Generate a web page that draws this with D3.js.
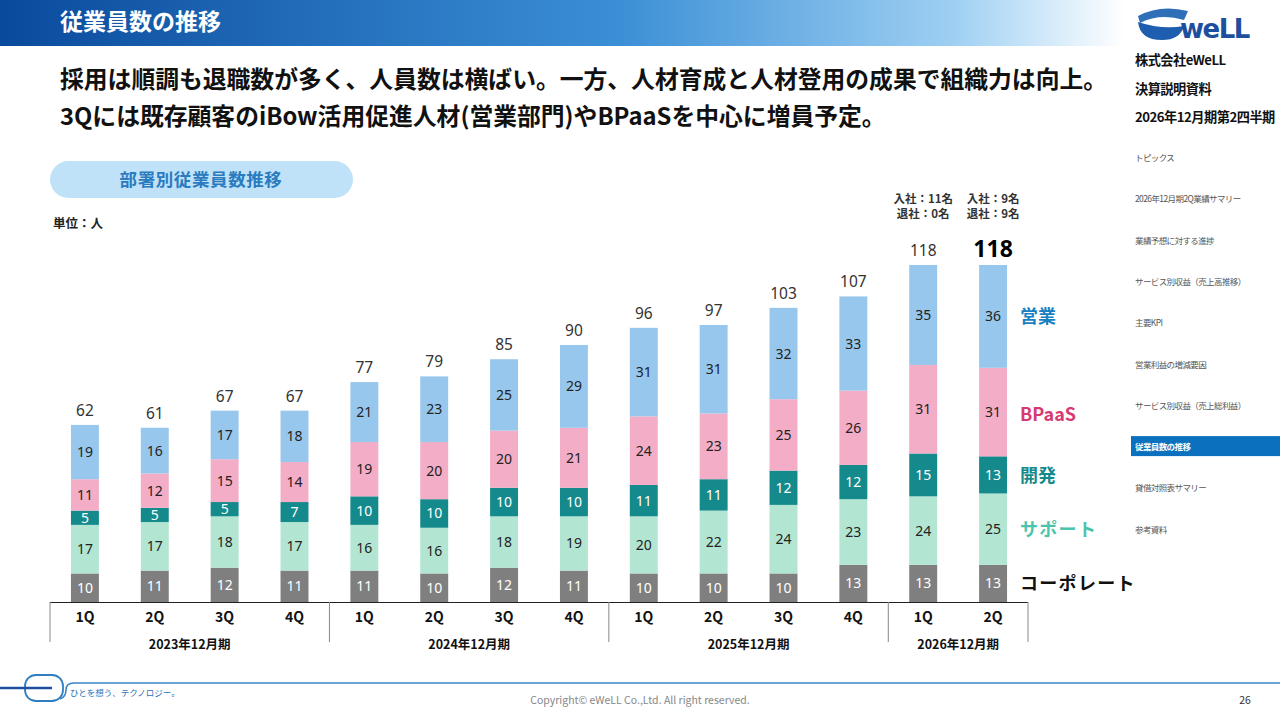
<!DOCTYPE html>
<html>
<head>
<meta charset="utf-8">
<script src="https://cdn.jsdelivr.net/npm/d3@7"></script>
<style>
  body { margin: 0; background: #fff; }
  svg { display: block; font-family: "Noto Sans CJK JP", "Noto Sans", sans-serif; }
</style>
</head>
<body>
<svg id="chart" width="1280" height="720"></svg>
<script>
// data
var quarters = ["1Q","2Q","3Q","4Q","1Q","2Q","3Q","4Q","1Q","2Q","3Q","4Q","1Q","2Q"];
var fiscalYears = ["2023年12月期","2024年12月期","2025年12月期","2026年12月期"];
var yearSpans = [4, 4, 4, 2];
var departments = ["コーポレート","サポート","開発","BPaaS","営業"];
var corporate = [10,11,12,11,11,10,12,11,10,10,10,13,13,13];
var support   = [17,17,18,17,16,16,18,19,20,22,24,23,24,25];
var dev       = [5,5,5,7,10,10,10,10,11,11,12,12,15,13];
var bpaas     = [11,12,15,14,19,20,20,21,24,23,25,26,31,31];
var sales     = [19,16,17,18,21,23,25,29,31,31,32,33,35,36];
var hireNotes = [["入社：11名","退社：0名"],["入社：9名","退社：9名"]];
var navItems = ["トピックス","2026年12月期2Q業績サマリー","業績予想に対する進捗","サービス別収益（売上高推移）",
  "主要KPI","営業利益の増減要因","サービス別収益（売上総利益）","従業員数の推移","貸借対照表サマリー","参考資料"];

var svg = d3.select("#chart");

// header bar
var defs = svg.append("defs");
var grad = defs.append("linearGradient").attr("id","hdr").attr("x1","0").attr("x2","1");
grad.append("stop").attr("offset","0").attr("stop-color","#0a4a9c");
grad.append("stop").attr("offset","0.55").attr("stop-color","#3b8fd6");
grad.append("stop").attr("offset","0.85").attr("stop-color","#9fd0f3");
grad.append("stop").attr("offset","1").attr("stop-color","#ffffff");
svg.append("rect").attr("x",0).attr("y",0).attr("width",1125).attr("height",46).attr("fill","url(#hdr)");
svg.append("text").attr("x",60).attr("y",30).attr("fill","#fff")
  .attr("font-size",23).attr("font-weight","bold").text("従業員数の推移");

// headline
svg.append("text").attr("x",60).attr("y",88).attr("font-size",23.8).attr("font-weight","bold").attr("fill","#111")
  .text("採用は順調も退職数が多く、人員数は横ばい。一方、人材育成と人材登用の成果で組織力は向上。");
svg.append("text").attr("x",60).attr("y",125).attr("font-size",23.8).attr("font-weight","bold").attr("fill","#111")
  .text("3Qには既存顧客のiBow活用促進人材(営業部門)やBPaaSを中心に増員予定。");

// pill
svg.append("rect").attr("x",50).attr("y",161).attr("width",303).attr("height",37).attr("rx",18.5)
  .attr("fill","#bfe2f8");
svg.append("text").attr("x",201).attr("y",186).attr("text-anchor","middle").attr("font-size",17.5)
  .attr("letter-spacing",0.6).attr("font-weight","bold").attr("fill","#2a7bbf").text("部署別従業員数推移");
svg.append("text").attr("x",53).attr("y",228).attr("font-size",12.5).attr("font-weight","bold")
  .attr("fill","#222").text("単位：人");

// right side panel
var logo = svg.append("g");
logo.append("path").attr("d","M1138,16 Q1160,4 1188,11 L1184,20 Q1160,13 1140,23 Z").attr("fill","#2f6fb8");
logo.append("path").attr("d","M1138,22 Q1140,40 1162,40 Q1180,40 1184,26 Q1162,30 1138,22 Z").attr("fill","#1d5fae");
logo.append("text").attr("x",1180).attr("y",38).attr("font-size",26).attr("font-weight","bold")
  .attr("fill","#1d4f9e").attr("font-family","DejaVu Sans").attr("letter-spacing",-1.5).text("weLL");
var sideTitles = ["株式会社eWeLL","決算説明資料","2026年12月期第2四半期"];
sideTitles.forEach(function(t,i){
  svg.append("text").attr("x",1135).attr("y",65+i*28.5).attr("font-size",13.2).attr("font-weight","bold")
    .attr("fill","#111").attr("letter-spacing",-0.5).text(t);
});
navItems.forEach(function(t,i){
  var y = 158 + i*41.3;
  if (i == 7) {
    svg.append("rect").attr("x",1131).attr("y",y-11).attr("width",149).attr("height",20).attr("fill","#0b70bd");
  }
  svg.append("text").attr("x",1135).attr("y",y+3).attr("font-size",8.5).attr("letter-spacing",-0.6)
    .attr("font-weight", i == 7 ? "bold" : "normal")
    .attr("fill", i == 7 ? "#fff" : "#555").text(t);
});

// chart
var left = 50, right = 1028, base = 602;
var x = d3.scaleBand().domain(d3.range(quarters.length)).range([left,right]).paddingInner(0.6).paddingOuter(0.3);
var y = d3.scaleLinear().domain([0,118]).range([base,265]);

var rows = quarters.map(function(q,i){
  return {i:i, "コーポレート":corporate[i], "サポート":support[i], "開発":dev[i], "BPaaS":bpaas[i], "営業":sales[i]};
});
var stack = d3.stack().keys(departments)(rows);
var fills = {"コーポレート":"#7f7f7f","サポート":"#b2e6d3","開発":"#148a8c","BPaaS":"#f4adc6","営業":"#97c7ec"};
var labelInk = {"コーポレート":"#fff","サポート":"#222","開発":"#fff","BPaaS":"#222","営業":"#222"};

var layers = svg.append("g").selectAll("g").data(stack).join("g");
layers.selectAll("rect").data(function(d){ return d.map(function(v){ v.key = d.key; return v; }); })
  .join("rect")
  .attr("x", function(d){ return x(d.data.i); })
  .attr("width", x.bandwidth())
  .attr("y", function(d){ return y(d[1]); })
  .attr("height", function(d){ return y(d[0]) - y(d[1]); })
  .attr("fill", function(d){ return fills[d.key]; });
layers.selectAll("text").data(function(d){ return d; })
  .join("text")
  .attr("x", function(d){ return x(d.data.i) + x.bandwidth()/2; })
  .attr("y", function(d){ return (y(d[0]) + y(d[1]))/2 + 5; })
  .attr("text-anchor","middle").attr("font-size",14).attr("font-family","Noto Sans")
  .attr("fill", function(d){ return labelInk[d.key]; })
  .text(function(d){ return d[1]-d[0]; });

// totals
rows.forEach(function(r,i){
  var tot = corporate[i]+support[i]+dev[i]+bpaas[i]+sales[i];
  var last = i == rows.length-1;
  svg.append("text").attr("x", x(i)+x.bandwidth()/2).attr("y", y(tot) - (last ? 8 : 9))
    .attr("text-anchor","middle").attr("font-family","Noto Sans")
    .attr("font-size", last ? 23 : 15.5).attr("font-weight", last ? "bold" : "normal")
    .attr("fill", last ? "#000" : "#333").text(tot);
});

// hire / leave notes
hireNotes.forEach(function(n,k){
  var i = quarters.length - 2 + k;
  n.forEach(function(line,j){
    svg.append("text").attr("x", x(i)+x.bandwidth()/2).attr("y", 203+j*15)
      .attr("text-anchor","middle").attr("font-size",11.5).attr("font-weight","bold")
      .attr("fill","#333").text(line);
  });
});

// legend labels at right of last bar
var legendColor = {"営業":"#1a7fc2","BPaaS":"#d63a72","開発":"#148a8c","サポート":"#4cc3ad","コーポレート":"#111"};
var lastIdx = quarters.length - 1;
stack.forEach(function(s){
  var d = s[lastIdx];
  var yy = (y(d[0]) + y(d[1]))/2;
  if (s.key == "BPaaS") yy += 2;
  svg.append("text").attr("x", 1020).attr("y", yy + 7).attr("font-size",18).attr("font-weight","bold")
    .attr("letter-spacing", s.key == "サポート" || s.key == "コーポレート" ? 1.3 : 0)
    .attr("fill", legendColor[s.key]).text(s.key);
});

// axis
var ax = svg.append("g");
ax.append("line").attr("x1",left).attr("x2",right).attr("y1",base+0.5).attr("y2",base+0.5)
  .attr("stroke","#222").attr("stroke-width",1.2);
quarters.forEach(function(q,i){
  ax.append("text").attr("x", x(i)+x.bandwidth()/2).attr("y", base+20).attr("text-anchor","middle")
    .attr("font-size",14).attr("font-weight","bold").attr("fill","#111").text(q);
});
var step = x.step();
var start = 0;
var edges = [left];
fiscalYears.forEach(function(fy,k){
  var x0 = left + start*step, x1 = left + (start+yearSpans[k])*step;
  if (k == fiscalYears.length-1) x1 = right;
  edges.push(x1);
  ax.append("text").attr("x",(x0+x1)/2).attr("y", base+47).attr("text-anchor","middle")
    .attr("font-size",12.5).attr("font-weight","bold").attr("fill","#111").text(fy);
  start += yearSpans[k];
});
edges.forEach(function(e){
  ax.append("line").attr("x1",e).attr("x2",e).attr("y1",base).attr("y2",base+40)
    .attr("stroke","#888").attr("stroke-width",1);
});

// footer
var ft = svg.append("g");
ft.append("rect").attr("x",25).attr("y",675).attr("width",38).attr("height",26).attr("rx",11)
  .attr("fill","none").attr("stroke","#2f7fc0").attr("stroke-width",1.8);
ft.append("path").attr("d","M0,688 L52,688").attr("stroke","#1d4f9e").attr("stroke-width",2.5).attr("fill","none");
ft.append("path").attr("d","M60,699 Q66,697 66,690 Q66,683 74,683 L1280,683")
  .attr("stroke","#3a86c6").attr("stroke-width",1.6).attr("fill","none");
ft.append("text").attr("x",70).attr("y",696).attr("font-size",8.5).attr("fill","#2a6fb5").text("ひとを想う、テクノロジー。");
ft.append("text").attr("x",640).attr("y",704).attr("text-anchor","middle").attr("font-size",10.5)
  .attr("fill","#888").text("Copyright© eWeLL Co.,Ltd. All right reserved.");
ft.append("text").attr("x",1245).attr("y",704).attr("text-anchor","middle").attr("font-size",10.5)
  .attr("fill","#333").text("26");
</script>
</body>
</html>
